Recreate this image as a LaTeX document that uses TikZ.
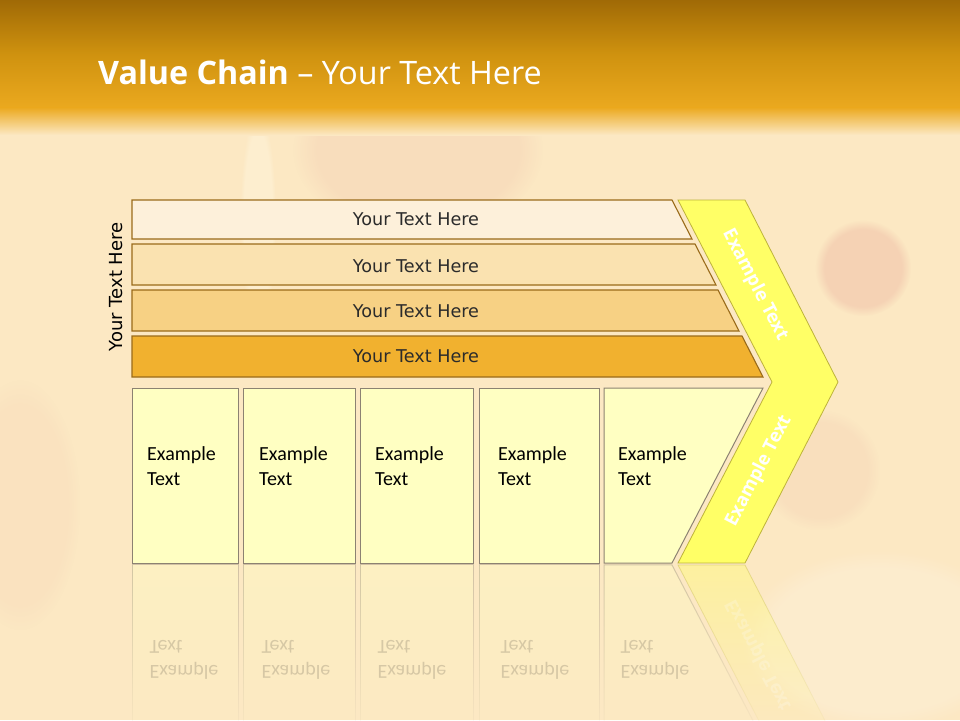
\documentclass[tikz,border=0pt]{standalone}
\usepackage{fontspec}
\setmainfont{Carlito}
\newfontfamily\osans{Open Sans}
\newfontfamily\dsans{DejaVu Sans}
\usetikzlibrary{fadings}
\definecolor{bgbase}{HTML}{FCE8C3}
\definecolor{hdtop}{HTML}{A06A06}
\definecolor{hdmid}{HTML}{CF920F}
\definecolor{hdbot}{HTML}{EBA91F}
\definecolor{barA}{HTML}{FDF0DA}
\definecolor{barB}{HTML}{FAE2B0}
\definecolor{barC}{HTML}{F7D184}
\definecolor{barD}{HTML}{F1B12F}
\definecolor{barline}{HTML}{9A6B1A}
\definecolor{boxfill}{HTML}{FFFFC2}
\definecolor{boxline}{HTML}{8C8272}
\definecolor{chevfill}{HTML}{FFFF66}
\definecolor{chevline}{HTML}{BDB33A}
\definecolor{textdark}{HTML}{2B2B2B}
\definecolor{blobA}{HTML}{F3CDB2}
\definecolor{blobB}{HTML}{EDB8A3}
\definecolor{lightstreak}{HTML}{FFF6DE}
\tikzfading[name=reflfade, top color=transparent!62, bottom color=transparent!100]
\begin{document}
\begin{tikzpicture}[x=1pt,y=-1pt,
  barst/.style={draw=barline, line width=1.1pt},
  bartext/.style={font=\dsans\fontsize{17.6}{20}\selectfont, text=textdark, inner sep=0},
  boxst/.style={fill=boxfill, draw=boxline, line width=1pt},
  boxtext/.style={font=\fontsize{20}{25}\selectfont, align=left, anchor=north west, inner sep=0, text=black},
  chevst/.style={fill=chevfill, draw=chevline, line width=0.8pt},
  chevtext/.style={font=\osans\bfseries\fontsize{18.5}{20}\selectfont, text=white, inner sep=0},
  reflst/.style={path fading=reflfade},
  refltext/.style={font=\fontsize{20}{25}\selectfont, align=left, inner sep=0, text=black, text opacity=0.15, yscale=-1},
  blob/.style={path fading=circle with fuzzy edge 20 percent}
]
\useasboundingbox (0,0) rectangle (960,720);
% background
\fill[bgbase] (0,0) rectangle (960,720);
\fill[blobA, blob, opacity=0.4] (418,150) ellipse (125 and 85);
\fill[blobB, blob, opacity=0.45] (863,268) ellipse (48 and 48);
\fill[blobA, blob, opacity=0.3] (820,470) ellipse (60 and 60);
\fill[blobA, blob, opacity=0.2] (20,505) ellipse (60 and 125);
\fill[lightstreak, blob, opacity=0.45] (258,220) ellipse (18 and 110);
\fill[white, blob, opacity=0.18] (880,640) ellipse (140 and 90);
% header
\shade[top color=hdtop, bottom color=hdbot, middle color=hdmid] (0,0) rectangle (960,108);
\shade[top color=hdbot, bottom color=bgbase] (0,107.5) rectangle (960,135);
\node[anchor=base west, inner sep=0, text=white, font=\osans\fontsize{32.3}{38}\selectfont] (title) at (98,84) {\textbf{Value Chain} – Your Text Here};
% vertical label
\node[rotate=90, inner sep=0, font=\dsans\fontsize{18}{20}\selectfont, text=black] (vlab) at (116,287) {Your Text Here};
% bars
\draw[barst, fill=barA] (132,200) -- (672,200) -- (692,239) -- (132,239) -- cycle;
\draw[barst, fill=barB] (132,244) -- (695,244) -- (716,285) -- (132,285) -- cycle;
\draw[barst, fill=barC] (132,290) -- (718,290) -- (739,331) -- (132,331) -- cycle;
\draw[barst, fill=barD] (132,336) -- (742,336) -- (763,377) -- (132,377) -- cycle;
\node[bartext] (b1) at (416,219) {Your Text Here};
\node[bartext] (b2) at (416,266) {Your Text Here};
\node[bartext] (b3) at (416,311) {Your Text Here};
\node[bartext] (b4) at (416,356) {Your Text Here};
% chevron
\draw[chevst] (678,200) -- (745,200) -- (838,382) -- (745,563) -- (678,563) -- (772,382) -- cycle;
\node[chevtext, rotate=-62.7] (c1) at (755,285) {Example Text};
\node[chevtext, rotate=62.6] (c2) at (759,471) {Example Text};
% boxes
\draw[boxst] (132,388) rectangle (238,563);
\draw[boxst] (243,388) rectangle (355,563);
\draw[boxst] (360,388) rectangle (473,563);
\draw[boxst] (479,388) rectangle (599,563);
\draw[boxst] (604,388) -- (763,388) -- (672,563) -- (604,563) -- cycle;
\node[boxtext] (t1) at (147,446) {Example\\Text};
\node[boxtext] (t2) at (259,446) {Example\\Text};
\node[boxtext] (t3) at (375,446) {Example\\Text};
\node[boxtext] (t4) at (498,446) {Example\\Text};
\node[boxtext] (t5) at (618,446) {Example\\Text};
% reflection
\draw[boxst, reflst] (132,565) rectangle (238,740);
\draw[boxst, reflst] (243,565) rectangle (355,740);
\draw[boxst, reflst] (360,565) rectangle (473,740);
\draw[boxst, reflst] (479,565) rectangle (599,740);
\draw[boxst, reflst] (604,565) -- (672,565) -- (763,740) -- (604,740) -- cycle;
\draw[chevst, reflst] (678,565) -- (745,565) -- (838,746) -- (772,746) -- cycle;
\node[refltext] (r1) at (184,660) {Example\\Text};
\node[refltext] (r2) at (296,660) {Example\\Text};
\node[refltext] (r3) at (412,660) {Example\\Text};
\node[refltext] (r4) at (535,660) {Example\\Text};
\node[refltext] (r5) at (655,660) {Example\\Text};
\node[chevtext, text opacity=0.22, yscale=-1, rotate=62.6] (rc) at (759,655) {Example Text};
\end{tikzpicture}
\end{document}
